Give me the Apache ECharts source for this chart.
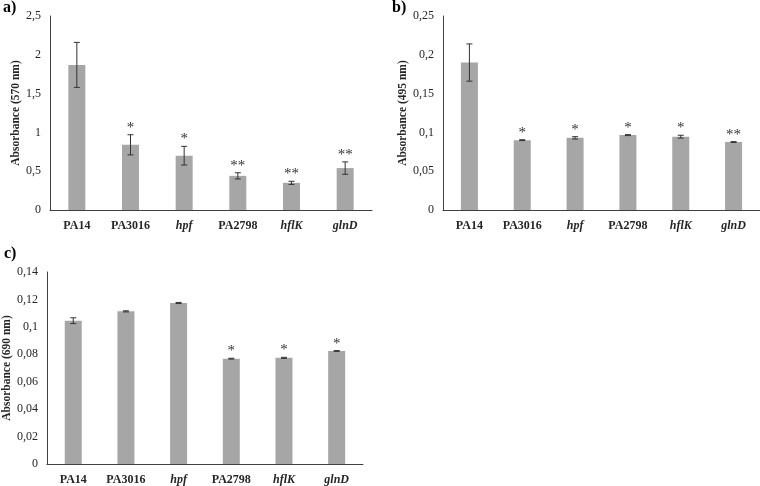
<!DOCTYPE html>
<html>
<head>
<meta charset="utf-8">
<script src="https://cdn.jsdelivr.net/npm/echarts@6/dist/echarts.min.js"></script>
<style>
html,body{margin:0;padding:0;background:#fff;}
#chart{width:760px;height:486px;}
</style>
</head>
<body>
<div id="chart"></div>
<script>
const categories = ['PA14', 'PA3016', 'hpf', 'PA2798', 'hflK', 'glnD'];
const italicCats = ['hpf', 'hflK', 'glnD'];

const valuesA = [1.87, 0.84, 0.70, 0.44, 0.35, 0.54];
const errorsA = [0.29, 0.13, 0.12, 0.04, 0.02, 0.08];
const starsA = ['', '*', '*', '**', '**', '**'];

const valuesB = [0.190, 0.090, 0.093, 0.0965, 0.0945, 0.0876];
const errorsB = [0.024, 0.0006, 0.0015, 0.0006, 0.0018, 0.0005];
const starsB = ['', '*', '*', '*', '*', '**'];

const valuesC = [0.1045, 0.1113, 0.1174, 0.0768, 0.0774, 0.0824];
const errorsC = [0.0021, 0.0004, 0.0004, 0.0003, 0.0004, 0.0003];
const starsC = ['', '', '', '*', '*', '*'];

const panelLabels = ['a)', 'b)', 'c)'];
const axisNames = ['Absorbance (570 nm)', 'Absorbance (495 nm)', 'Absorbance (690 nm)'];
const yMax = [2.5, 0.25, 0.14];
const yInterval = [0.5, 0.05, 0.02];

const FONT = '"Liberation Serif", "Times New Roman", serif';
const AXIS_COLOR = '#404040';
const TEXT_COLOR = '#262626';
const BAR_COLOR = '#a6a6a6';

const grids = [
  {left: 50, top: 16, width: 322, height: 194},
  {left: 443, top: 16, width: 317, height: 194},
  {left: 43, top: 272, width: 320, height: 194}
];
const nameGaps = [28, 31, 33];

function fmtTick(v) {
  return String(+v.toFixed(4)).replace('.', ',');
}

const xAxes = grids.map((g, i) => ({
  type: 'category',
  gridIndex: i,
  data: categories,
  axisLine: {show: true, lineStyle: {color: AXIS_COLOR, width: 1}},
  axisTick: {show: false},
  axisLabel: {
    margin: 10,
    interval: 0,
    formatter: c => italicCats.includes(c) ? '{i|' + c + '}' : '{n|' + c + '}',
    rich: {
      n: {fontFamily: FONT, fontWeight: 'bold', fontSize: 12, color: TEXT_COLOR},
      i: {fontFamily: FONT, fontWeight: 'bold', fontStyle: 'italic', fontSize: 12, color: TEXT_COLOR}
    }
  }
}));

const yAxes = grids.map((g, i) => ({
  type: 'value',
  gridIndex: i,
  min: 0,
  max: yMax[i],
  interval: yInterval[i],
  name: axisNames[i],
  nameLocation: 'middle',
  nameGap: nameGaps[i],
  nameRotate: 90,
  nameTextStyle: {fontFamily: FONT, fontWeight: 'bold', fontSize: 11.5, color: TEXT_COLOR},
  axisLine: {show: true, lineStyle: {color: AXIS_COLOR, width: 1}},
  axisTick: {show: false},
  splitLine: {show: false},
  axisLabel: {
    margin: 9,
    fontFamily: FONT,
    fontSize: 12,
    color: TEXT_COLOR,
    formatter: fmtTick
  }
}));

const sets = [
  {values: valuesA, errors: errorsA, stars: starsA},
  {values: valuesB, errors: errorsB, stars: starsB},
  {values: valuesC, errors: errorsC, stars: starsC}
];

const series = [];
sets.forEach((s, i) => {
  series.push({
    type: 'bar',
    xAxisIndex: i,
    yAxisIndex: i,
    data: s.values,
    barWidth: 17,
    itemStyle: {color: BAR_COLOR},
    silent: true
  });
  series.push({
    type: 'custom',
    xAxisIndex: i,
    yAxisIndex: i,
    silent: true,
    z: 5,
    data: s.values.map((v, k) => [k, v, s.errors[k]]),
    renderItem: (params, api) => {
      const k = api.value(0);
      const v = api.value(1);
      const e = api.value(2);
      const top = api.coord([k, v + e]);
      const bot = api.coord([k, v - e]);
      const x = top[0];
      const cap = 3;
      const st = {stroke: '#333', lineWidth: 1};
      const children = [
        {type: 'line', shape: {x1: x, y1: top[1], x2: x, y2: bot[1]}, style: st},
        {type: 'line', shape: {x1: x - cap, y1: top[1], x2: x + cap, y2: top[1]}, style: st},
        {type: 'line', shape: {x1: x - cap, y1: bot[1], x2: x + cap, y2: bot[1]}, style: st}
      ];
      const star = s.stars[params.dataIndex];
      if (star) {
        children.push({
          type: 'text',
          style: {
            text: star, x: x, y: top[1] + 0.5,
            align: 'center', verticalAlign: 'bottom',
            font: '15px ' + FONT, fill: '#333'
          }
        });
      }
      return {type: 'group', children: children};
    }
  });
});

const graphics = [
  {type: 'text', left: 3, top: 0, style: {text: panelLabels[0], font: 'bold 16px ' + FONT, fill: '#000'}},
  {type: 'text', left: 392, top: 0, style: {text: panelLabels[1], font: 'bold 16px ' + FONT, fill: '#000'}},
  {type: 'text', left: 4, top: 246, style: {text: panelLabels[2], font: 'bold 16px ' + FONT, fill: '#000'}}
];

const chart = echarts.init(document.getElementById('chart'), null, {renderer: 'canvas'});
chart.setOption({
  animation: false,
  backgroundColor: '#fff',
  grid: grids,
  xAxis: xAxes,
  yAxis: yAxes,
  series: series,
  graphic: graphics
});
</script>
</body>
</html>
